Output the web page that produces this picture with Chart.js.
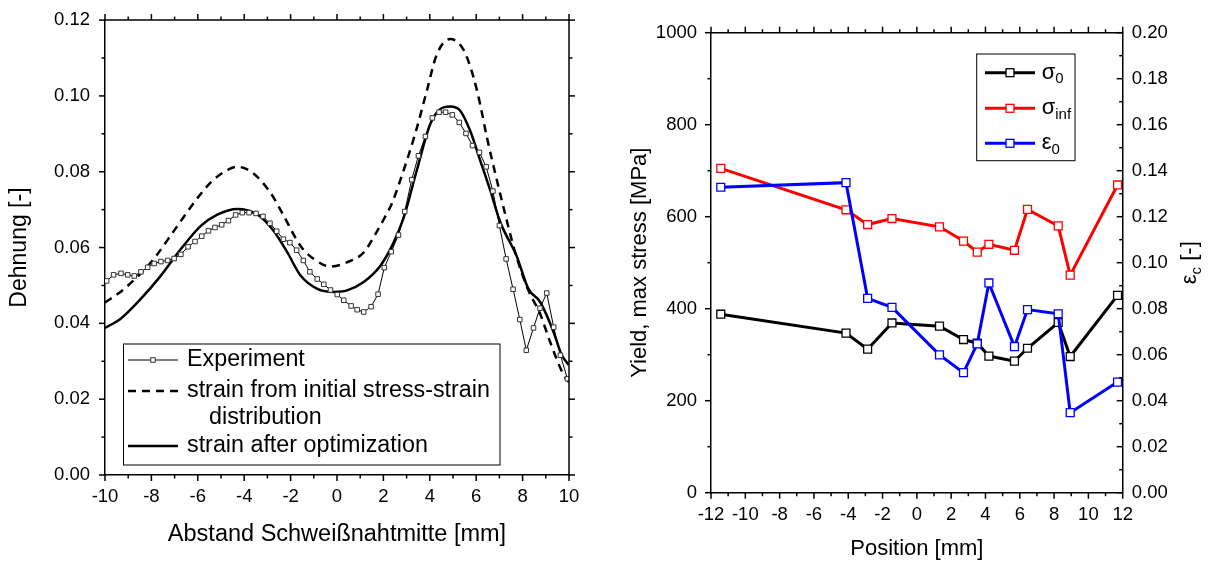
<!DOCTYPE html>
<html>
<head>
<meta charset="utf-8">
<script src="https://cdn.jsdelivr.net/npm/chart.js@4/dist/chart.umd.min.js"></script>
<style>
  body { margin: 0; background: #fff; }
  #wrap { position: relative; width: 1210px; height: 565px; }
  .pane { position: absolute; top: 0; height: 565px; }
</style>
</head>
<body>
<div id="wrap">
  <div class="pane" style="left:0;width:600px"><canvas id="strainChart" width="600" height="565"></canvas></div>
  <div class="pane" style="left:600px;width:610px"><canvas id="yieldChart" width="610" height="565"></canvas></div>
</div>
<script>
// --- linkes Diagramm: Dehnung ueber Abstand ---
const expPos = [-9.93, -9.63, -9.31, -9.02, -8.74, -8.45, -8.16, -7.88, -7.59, -7.30, -7.02, -6.73,
  -6.42, -6.12, -5.83, -5.54, -5.26, -4.97, -4.68, -4.37, -4.08, -3.79, -3.49, -3.19, -2.89, -2.60,
  -2.31, -2.03, -1.74, -1.45, -1.17, -0.85, -0.57, -0.28, 0.01, 0.29, 0.61, 0.87, 1.15, 1.47, 1.77,
  2.04, 2.34, 2.65, 2.92, 3.22, 3.51, 3.81, 4.11, 4.40, 4.68, 4.97, 5.27, 5.56, 5.84, 6.14, 6.43,
  6.72, 7.00, 7.29, 7.59, 7.88, 8.16, 8.47, 8.75, 9.04, 9.34, 9.63, 9.93];
const expStrain = [0.0512, 0.0528, 0.0532, 0.0528, 0.0525, 0.0536, 0.0548, 0.0558, 0.0563, 0.0566,
  0.0571, 0.0582, 0.0602, 0.0616, 0.0630, 0.0644, 0.0653, 0.0660, 0.0671, 0.0686, 0.0692, 0.0692,
  0.0690, 0.0682, 0.0664, 0.0643, 0.0622, 0.0613, 0.0593, 0.0566, 0.0536, 0.0517, 0.0503, 0.0488,
  0.0476, 0.0461, 0.0446, 0.0436, 0.0430, 0.0444, 0.0477, 0.0547, 0.0589, 0.0633, 0.0695, 0.0779,
  0.0842, 0.0893, 0.0942, 0.0957, 0.0957, 0.0950, 0.0930, 0.0901, 0.0869, 0.0851, 0.0813, 0.0749,
  0.0658, 0.0570, 0.0490, 0.0410, 0.0329, 0.0388, 0.0440, 0.0480, 0.0390, 0.0316, 0.0254];

const initPos = [-10, -9.17, -7.95, -7.03, -6.02, -5.44, -4.8, -4.3, -3.7, -2.86, -2.36, -1.57, -1.0,
  -0.28, 0.43, 1.15, 1.65, 2.01, 2.37, 2.73, 3.37, 3.87, 4.30, 4.88, 5.45, 5.89, 6.17, 6.46, 6.89,
  7.25, 7.68, 8.25, 8.75, 9.18, 9.76, 10];
const initStrain = [0.0455, 0.0491, 0.0566, 0.0644, 0.0730, 0.0772, 0.0802, 0.0813, 0.0800, 0.0744,
  0.0691, 0.0604, 0.0570, 0.0550, 0.0561, 0.0587, 0.0635, 0.0674, 0.0717, 0.0778, 0.0900, 0.1013,
  0.1109, 0.1150, 0.1122, 0.1048, 0.0978, 0.0891, 0.0778, 0.0688, 0.0587, 0.0487, 0.0426, 0.0352,
  0.0265, 0.0245];

const optPos = [-10, -9.31, -8.45, -7.59, -6.73, -5.87, -5.16, -4.30, -3.43, -2.72, -2.14, -1.57,
  -0.85, -0.14, 0.43, 1.15, 1.87, 2.44, 2.87, 3.44, 4.02, 4.45, 4.88, 5.31, 5.74, 6.17, 6.60, 7.03,
  7.74, 8.25, 8.75, 9.33, 9.68, 10];
const optStrain = [0.0388, 0.0413, 0.0465, 0.0526, 0.0596, 0.0657, 0.0687, 0.0702, 0.0687, 0.0643,
  0.0587, 0.0526, 0.0491, 0.0483, 0.0487, 0.0509, 0.0552, 0.0613, 0.0678, 0.0804, 0.0926, 0.0965,
  0.0972, 0.0961, 0.0908, 0.0830, 0.0752, 0.0668, 0.0578, 0.0491, 0.0457, 0.0378, 0.0317, 0.0290];

// --- rechtes Diagramm: Parameter ueber Position ---
const positions = [-11.43, -4.13, -2.87, -1.45, 1.32, 2.72, 3.52, 4.20, 5.69, 6.45, 8.24, 8.94, 11.70];
const sigma0 = [388, 347, 312, 369, 362, 333, 325, 297, 286, 314, 370, 296, 429];
const sigmaInf = [705, 615, 583, 596, 578, 547, 523, 540, 527, 616, 580, 473, 669];
const eps0 = [0.1328, 0.1348, 0.0845, 0.0806, 0.0599, 0.0522, 0.0647, 0.0912, 0.0635, 0.0796, 0.0778, 0.0348, 0.0481];

const FONT = "'Liberation Sans', Arial, Helvetica, sans-serif";
Chart.defaults.font.family = FONT;
Chart.defaults.color = '#000';

const toPoints = (xs, ys) => xs.map((x, i) => ({ x: x, y: ys[i] }));

// Haupt- und Nebenstriche an allen Seiten zeichnen
const axisTicks = {
  id: 'axisTicks',
  afterDraw(chart, args, opts) {
    const ctx = chart.ctx;
    const area = chart.chartArea;
    ctx.save();
    ctx.strokeStyle = '#000';
    ctx.lineWidth = 1.5;
    (opts.frame || []).forEach(side => {
      ctx.beginPath();
      if (side === 'top') { ctx.moveTo(area.left, area.top); ctx.lineTo(area.right, area.top); }
      if (side === 'right') { ctx.moveTo(area.right, area.top); ctx.lineTo(area.right, area.bottom); }
      ctx.stroke();
    });
    (opts.axes || []).forEach(a => {
      const scale = chart.scales[a.id];
      const marks = [];
      scale.ticks.forEach((t, i) => {
        marks.push([t.value, 6]);
        if (i < scale.ticks.length - 1) marks.push([(t.value + scale.ticks[i + 1].value) / 2, 3.5]);
      });
      a.sides.forEach(side => {
        const dir = a.inward ? -1 : 1;
        marks.forEach(([v, len]) => {
          const p = scale.getPixelForValue(v);
          ctx.beginPath();
          if (side === 'bottom') { ctx.moveTo(p, area.bottom); ctx.lineTo(p, area.bottom + dir * len); }
          if (side === 'top') { ctx.moveTo(p, area.top); ctx.lineTo(p, area.top - dir * len); }
          if (side === 'left') { ctx.moveTo(area.left, p); ctx.lineTo(area.left - dir * len, p); }
          if (side === 'right') { ctx.moveTo(area.right, p); ctx.lineTo(area.right + dir * len, p); }
          ctx.stroke();
        });
      });
    });
    ctx.restore();
  }
};

// Text mit Index (z.B. sigma_0) ab x zeichnen, liefert Breite
function drawSubText(ctx, x, y, main, sub, size, subSize) {
  ctx.font = size + 'px ' + FONT;
  ctx.fillText(main, x, y);
  let w = ctx.measureText(main).width;
  if (sub) {
    ctx.font = subSize + 'px ' + FONT;
    ctx.fillText(sub, x + w, y + size * 0.3);
    w += ctx.measureText(sub).width;
  }
  return w;
}

// Legende im Kasten wie im Original
const boxLegend = {
  id: 'boxLegend',
  afterDraw(chart, args, opts) {
    if (!opts.items) return;
    const ctx = chart.ctx;
    const [bx, by, bw, bh] = opts.box;
    ctx.save();
    ctx.strokeStyle = '#000';
    ctx.lineWidth = 1;
    ctx.strokeRect(bx, by, bw, bh);
    opts.items.forEach(item => {
      const y = item.y;
      if (item.dataset !== undefined) {
        const ds = chart.data.datasets[item.dataset];
        ctx.save();
        ctx.strokeStyle = ds.borderColor;
        ctx.lineWidth = ds.borderWidth;
        ctx.setLineDash(ds.borderDash || []);
        ctx.beginPath();
        ctx.moveTo(opts.lineX[0], y);
        ctx.lineTo(opts.lineX[1], y);
        ctx.stroke();
        ctx.restore();
        if (ds.pointRadius > 0) {
          const s = ds.pointRadius * Math.SQRT1_2;
          const mx = (opts.lineX[0] + opts.lineX[1]) / 2;
          ctx.fillStyle = ds.pointBackgroundColor;
          ctx.strokeStyle = ds.pointBorderColor;
          ctx.lineWidth = ds.pointBorderWidth;
          ctx.fillRect(mx - s, y - s, 2 * s, 2 * s);
          ctx.strokeRect(mx - s, y - s, 2 * s, 2 * s);
        }
      }
      ctx.fillStyle = '#000';
      ctx.textBaseline = 'middle';
      ctx.textAlign = 'left';
      drawSubText(ctx, item.x !== undefined ? item.x : opts.textX, y, item.text, item.sub, opts.size, opts.subSize);
    });
    ctx.restore();
  }
};

// rechte Achsenbeschriftung eps_c [-]
const sideTitle = {
  id: 'sideTitle',
  afterDraw(chart, args, opts) {
    if (!opts.text) return;
    const ctx = chart.ctx;
    const area = chart.chartArea;
    ctx.save();
    ctx.fillStyle = '#000';
    ctx.textBaseline = 'middle';
    ctx.textAlign = 'left';
    ctx.font = opts.size + 'px ' + FONT;
    let w = ctx.measureText(opts.text).width + ctx.measureText(opts.rest).width;
    ctx.font = opts.subSize + 'px ' + FONT;
    w += ctx.measureText(opts.sub).width;
    ctx.translate(opts.x, (area.top + area.bottom) / 2);
    ctx.rotate(-Math.PI / 2);
    let x = -w / 2;
    x += drawSubText(ctx, x, 0, opts.text, opts.sub, opts.size, opts.subSize);
    ctx.font = opts.size + 'px ' + FONT;
    ctx.fillText(opts.rest, x, 0);
    ctx.restore();
  }
};

const tickFont = { size: 18.5 };

new Chart(document.getElementById('strainChart'), {
  type: 'line',
  data: {
    datasets: [
      {
        label: 'Experiment',
        data: toPoints(expPos, expStrain),
        borderColor: '#000',
        borderWidth: 1,
        pointStyle: 'rect',
        pointRadius: 3.2,
        pointBorderWidth: 1,
        pointBorderColor: '#333',
        pointBackgroundColor: '#fff',
        tension: 0,
        order: 1
      },
      {
        label: 'strain from initial stress-strain distribution',
        data: toPoints(initPos, initStrain),
        borderColor: '#000',
        borderWidth: 2.5,
        borderDash: [8, 6],
        pointRadius: 0,
        cubicInterpolationMode: 'monotone',
        order: 3
      },
      {
        label: 'strain after optimization',
        data: toPoints(optPos, optStrain),
        borderColor: '#000',
        borderWidth: 2.5,
        pointRadius: 0,
        cubicInterpolationMode: 'monotone',
        order: 2
      }
    ]
  },
  options: {
    responsive: false,
    animation: false,
    layout: { padding: { top: 15, right: 31, bottom: 0, left: 0 } },
    scales: {
      x: {
        type: 'linear',
        min: -10, max: 10,
        ticks: { stepSize: 2, font: tickFont, padding: 5, maxRotation: 0 },
        grid: { display: false, tickLength: 6 },
        border: { color: '#000', width: 1.5 },
        title: { display: true, text: 'Abstand Schweißnahtmitte [mm]', font: { size: 23.5 }, padding: { top: 0, bottom: 16 } },
        afterFit: s => { s.height = 90; }
      },
      y: {
        min: 0, max: 0.12,
        ticks: { stepSize: 0.02, font: tickFont, padding: 9, callback: v => v.toFixed(2) },
        grid: { display: false, tickLength: 6 },
        border: { color: '#000', width: 1.5 },
        title: { display: true, text: 'Dehnung [-]', font: { size: 23 }, padding: { top: 6, bottom: 0 } },
        afterFit: s => { s.width = 105; }
      }
    },
    plugins: {
      legend: { display: false },
      tooltip: { enabled: false },
      axisTicks: {
        frame: ['top', 'right'],
        axes: [{ id: 'x', sides: ['bottom', 'top'] }, { id: 'y', sides: ['left', 'right'] }]
      },
      boxLegend: {
        box: [123.5, 344, 376.5, 121],
        lineX: [128, 178],
        textX: 187,
        size: 23.3,
        subSize: 15,
        items: [
          { dataset: 0, text: 'Experiment', y: 360 },
          { dataset: 1, text: 'strain from initial stress-strain', y: 391 },
          { text: 'distribution', x: 209, y: 418 },
          { dataset: 2, text: 'strain after optimization', y: 446 }
        ]
      }
    }
  },
  plugins: [axisTicks, boxLegend]
});

const seriesStyle = (color, order) => ({
  borderColor: color,
  borderWidth: 3,
  pointStyle: 'rect',
  pointRadius: 5.6,
  pointBorderWidth: 1.3,
  pointBorderColor: color,
  pointBackgroundColor: '#fff',
  tension: 0,
  order: order
});

new Chart(document.getElementById('yieldChart'), {
  type: 'line',
  data: {
    datasets: [
      Object.assign({ label: 'σ0', data: toPoints(positions, sigma0), yAxisID: 'y' }, seriesStyle('#000000', 3)),
      Object.assign({ label: 'σinf', data: toPoints(positions, sigmaInf), yAxisID: 'y' }, seriesStyle('#ff0000', 2)),
      Object.assign({ label: 'ε0', data: toPoints(positions, eps0), yAxisID: 'y2' }, seriesStyle('#0000ff', 1))
    ]
  },
  options: {
    responsive: false,
    animation: false,
    layout: { padding: { top: 32.7, right: 0, bottom: 0, left: 0 } },
    scales: {
      x: {
        type: 'linear',
        min: -12, max: 12,
        ticks: { stepSize: 2, font: tickFont, padding: 5, maxRotation: 0 },
        grid: { display: false, tickLength: 6 },
        border: { color: '#000', width: 1.5 },
        title: { display: true, text: 'Position [mm]', font: { size: 22 }, padding: { top: 0, bottom: 2.8 } },
        afterFit: s => { s.height = 72.3; }
      },
      y: {
        position: 'left',
        min: 0, max: 1000,
        ticks: { stepSize: 200, font: tickFont, padding: 8, callback: v => String(v) },
        grid: { display: false, tickLength: 6 },
        border: { color: '#000', width: 1.5 },
        title: { display: true, text: 'Yield, max stress [MPa]', font: { size: 22 }, padding: { top: 26.8, bottom: 0 } },
        afterFit: s => { s.width = 111; }
      },
      y2: {
        position: 'right',
        min: 0, max: 0.2,
        ticks: { stepSize: 0.02, font: tickFont, padding: 9, callback: v => v.toFixed(2) },
        grid: { display: false, drawTicks: false },
        border: { color: '#000', width: 1.5 },
        afterFit: s => { s.width = 87.3; }
      }
    },
    plugins: {
      legend: { display: false },
      tooltip: { enabled: false },
      axisTicks: {
        frame: ['top'],
        axes: [
          { id: 'x', sides: ['bottom', 'top'] },
          { id: 'y', sides: ['left'] },
          { id: 'y2', sides: ['right'], inward: true }
        ]
      },
      boxLegend: {
        box: [376.7, 54, 98.3, 106.7],
        lineX: [385, 435],
        textX: 441.7,
        size: 22,
        subSize: 15,
        items: [
          { dataset: 0, text: 'σ', sub: '0', y: 72.7 },
          { dataset: 1, text: 'σ', sub: 'inf', y: 108.3 },
          { dataset: 2, text: 'ε', sub: '0', y: 143.3 }
        ]
      },
      sideTitle: { x: 590, text: 'ε', sub: 'c', rest: ' [-]', size: 22, subSize: 15 }
    }
  },
  plugins: [axisTicks, boxLegend, sideTitle]
});
</script>
</body>
</html>
